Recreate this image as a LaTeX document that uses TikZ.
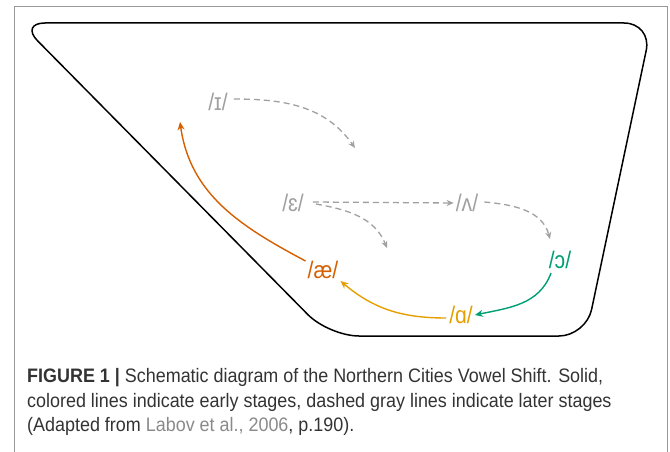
\documentclass[tikz,border=0pt]{standalone}
\usepackage{fontspec}
\setmainfont{Liberation Sans}
\newfontfamily\capfont[FakeStretch=0.92]{Liberation Sans}
\newfontfamily\ipafont[FakeStretch=0.88]{Liberation Sans}
\usetikzlibrary{arrows.meta}
\definecolor{vermil}{HTML}{D55E00}
\definecolor{amber}{HTML}{E69F00}
\definecolor{bgreen}{HTML}{009E73}
\definecolor{ipagray}{HTML}{A0A0A0}
\definecolor{captxt}{HTML}{333333}
\definecolor{linkgray}{HTML}{8A8A8A}
\tikzset{
  vowel/.style={font=\ipafont\fontsize{24}{24}\selectfont, inner sep=2pt},
  later/.style={draw=ipagray, line width=1.3pt, dash pattern=on 6pt off 4pt, -{Stealth[length=7pt,width=6pt]}},
  early/.style={line width=1.4pt, -{Stealth[length=8pt,width=7pt]}},
  capline/.style={anchor=base west, inner sep=0pt, text=captxt, font=\capfont\fontsize{19.5}{19.5}\selectfont}
}
\begin{document}
\begin{tikzpicture}[x=1pt,y=1pt]
\useasboundingbox (0,0) rectangle (670,451);
% outer frame
\draw[draw=gray!80, line width=0.9pt] (14,-10) -- (14,445) -- (667,445) -- (667,-10);
% vowel space trapezoid
\draw[line width=1.5pt] (300,428) [rounded corners=25pt] -- (20,428) [rounded corners=30pt] -- (329,115) [rounded corners=27pt] -- (586,115) [rounded corners=28pt] -- (652,428) [sharp corners] -- cycle;
% vowels
\node[vowel, text=ipagray] (i) at (218,349) {/ɪ/};
\node[vowel, text=ipagray] (eps) at (293,248) {/ɛ/};
\node[vowel, text=ipagray] (wedge) at (467,248) {/ʌ/};
\node[vowel, text=bgreen] (oo) at (560,191) {/ɔ/};
\node[vowel, text=amber] (al) at (461,136) {/ɑ/};
\node[vowel, text=vermil] (ae) at (323,181) {/æ/};
% free ends
\coordinate (t1) at (355,303);
\coordinate (t2) at (387,203);
\coordinate (t3) at (180,329);
\coordinate (w1) at (550,212);
% later stages
\draw[later] (i.east) ++(4,3) coordinate (s1) (s1) to[out=0,in=125] (t1);
\draw[later] (eps.east) ++(7,1) coordinate (s2) (s2) -- (wedge.west);
\draw[later] (eps.east) ++(10,-1) coordinate (s3) (s3) to[out=-10,in=112] (t2);
\draw[later] (wedge.east) ++(4,1) coordinate (s4) (s4) to[out=-5,in=105] (w1);
% early stages
\draw[early, draw=bgreen] (oo.south) ++(-9,-2) coordinate (s5) (s5) to[out=-110,in=12] (al.east);
\draw[early, draw=amber] (al.west) ++(-1,-3) coordinate (s6) (s6) to[out=180,in=-40] (ae.south east);
\draw[early, draw=vermil] (ae.north west) ++(0,-2) coordinate (s7) (s7) to[out=152,in=-82] (t3);
% caption
\node[capline] (c1) at (27,69) {\textbf{FIGURE 1 |} Schematic diagram of the Northern Cities Vowel Shift. Solid,};
\node[capline] (c2) at (27,44) {colored lines indicate early stages, dashed gray lines indicate later stages};
\node[capline] (c3) at (27,20) {(Adapted from \textcolor{linkgray}{Labov et al., 2006}, p.190).};
\end{tikzpicture}
\end{document}
